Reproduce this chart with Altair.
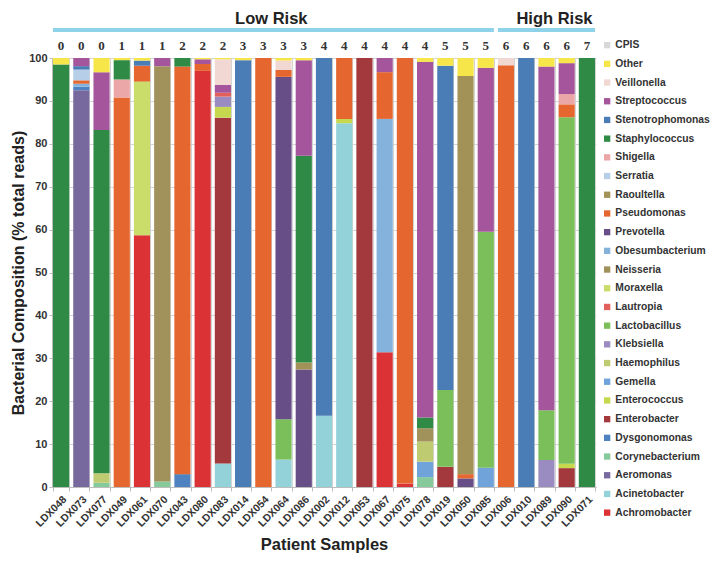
import altair as alt
import pandas as pd

# ---------------- data ----------------
samples = ["LDX048", "LDX073", "LDX077", "LDX049", "LDX061", "LDX070", "LDX043",
           "LDX080", "LDX083", "LDX014", "LDX054", "LDX064", "LDX086", "LDX002",
           "LDX012", "LDX053", "LDX067", "LDX075", "LDX078", "LDX019", "LDX050",
           "LDX085", "LDX006", "LDX010", "LDX089", "LDX090", "LDX071"]
cpis = [0, 0, 0, 1, 1, 1, 2, 2, 2, 3, 3, 3, 3, 4, 4, 4, 4, 4, 4, 5, 5, 5, 6, 6, 6, 6, 7]

# stacking order, bottom to top
genera = ["Achromobacter", "Acinetobacter", "Aeromonas", "Corynebacterium", "Dysgonomonas",
          "Enterobacter", "Enterococcus", "Gemella", "Haemophilus", "Klebsiella",
          "Lactobacillus", "Lautropia", "Moraxella", "Neisseria", "Obesumbacterium",
          "Prevotella", "Pseudomonas", "Raoultella", "Serratia", "Shigella",
          "Staphylococcus", "Stenotrophomonas", "Streptococcus", "Veillonella", "Other"]
genus_colors = ["#DB3236", "#93D2D8", "#77689E", "#86C99A", "#4F82C0",
                "#A3393C", "#C5D84E", "#6FA3D9", "#BFCB70", "#9A8CC0",
                "#7BBF5B", "#E25F5A", "#CADC6A", "#A1915A", "#85B2DC",
                "#684E87", "#E5672F", "#A39257", "#B6CEE7", "#EBA6A7",
                "#2F8A45", "#4A7CB6", "#A5559B", "#F1D8D2", "#F6E64A"]

composition = {
    "LDX048": {"Staphylococcus": 98.5, "Other": 1.5},
    "LDX073": {"Aeromonas": 92.5, "Dysgonomonas": 0.8, "Obesumbacterium": 0.7, "Pseudomonas": 0.8,
               "Serratia": 2.5, "Stenotrophomonas": 0.8, "Streptococcus": 1.9},
    "LDX077": {"Corynebacterium": 1.0, "Haemophilus": 2.2, "Staphylococcus": 80.0,
               "Streptococcus": 13.5, "Other": 3.3},
    "LDX049": {"Pseudomonas": 90.8, "Shigella": 4.2, "Staphylococcus": 4.5, "Other": 0.5},
    "LDX061": {"Achromobacter": 58.7, "Moraxella": 35.8, "Pseudomonas": 3.7,
               "Stenotrophomonas": 1.2, "Other": 0.6},
    "LDX070": {"Corynebacterium": 1.3, "Neisseria": 96.8, "Streptococcus": 1.9},
    "LDX043": {"Dysgonomonas": 3.0, "Pseudomonas": 95.0, "Staphylococcus": 2.0},
    "LDX080": {"Achromobacter": 97.0, "Pseudomonas": 1.6, "Streptococcus": 1.1, "Other": 0.3},
    "LDX083": {"Acinetobacter": 5.5, "Enterobacter": 80.6, "Enterococcus": 2.5, "Klebsiella": 2.4,
               "Lautropia": 0.9, "Streptococcus": 1.8, "Veillonella": 6.0, "Other": 0.3},
    "LDX014": {"Stenotrophomonas": 99.5, "Other": 0.5},
    "LDX054": {"Pseudomonas": 100.0},
    "LDX064": {"Acinetobacter": 6.4, "Lactobacillus": 9.4, "Prevotella": 79.8, "Pseudomonas": 1.6,
               "Veillonella": 2.2, "Other": 0.6},
    "LDX086": {"Prevotella": 27.4, "Raoultella": 1.6, "Staphylococcus": 48.2,
               "Streptococcus": 22.3, "Other": 0.5},
    "LDX002": {"Acinetobacter": 16.6, "Stenotrophomonas": 83.4},
    "LDX012": {"Acinetobacter": 84.8, "Enterococcus": 1.0, "Pseudomonas": 14.2},
    "LDX053": {"Enterobacter": 100.0},
    "LDX067": {"Achromobacter": 31.4, "Obesumbacterium": 54.4, "Pseudomonas": 10.9,
               "Streptococcus": 3.3},
    "LDX075": {"Achromobacter": 0.8, "Pseudomonas": 99.2},
    "LDX078": {"Corynebacterium": 2.3, "Gemella": 3.6, "Haemophilus": 4.7, "Neisseria": 3.1,
               "Staphylococcus": 2.5, "Streptococcus": 82.9, "Other": 0.9},
    "LDX019": {"Enterobacter": 4.7, "Lactobacillus": 17.9, "Stenotrophomonas": 75.6, "Other": 1.8},
    "LDX050": {"Prevotella": 2.0, "Pseudomonas": 1.0, "Raoultella": 92.8, "Other": 4.2},
    "LDX085": {"Gemella": 4.5, "Lactobacillus": 55.0, "Streptococcus": 38.2, "Other": 2.3},
    "LDX006": {"Pseudomonas": 98.3, "Veillonella": 1.7},
    "LDX010": {"Stenotrophomonas": 100.0},
    "LDX089": {"Klebsiella": 6.3, "Lactobacillus": 11.6, "Streptococcus": 80.1, "Other": 2.0},
    "LDX090": {"Enterobacter": 4.4, "Enterococcus": 1.0, "Lactobacillus": 80.8, "Pseudomonas": 3.0,
               "Shigella": 2.4, "Streptococcus": 7.2, "Other": 1.2},
    "LDX071": {"Staphylococcus": 100.0},
}

risk_labels = ["Low Risk", "High Risk"]
risk_first = ["LDX048", "LDX006"]
risk_last = ["LDX085", "LDX071"]
risk_mid = ["LDX054", "LDX089"]

# ---------------- tables ----------------
rows = []
for s in samples:
    for g, v in composition[s].items():
        rows.append({"sample": s, "genus": g, "value": v, "idx": genera.index(g)})
df = pd.DataFrame(rows)

cpis_df = pd.DataFrame({"sample": samples, "cpis": [str(c) for c in cpis]})
risk_df = pd.DataFrame({"label": risk_labels, "first": risk_first,
                        "last": risk_last, "mid": risk_mid})

legend_domain = ["CPIS"] + genera[::-1]
legend_range = ["#D8D8D8"] + genus_colors[::-1]

FONT = "Liberation Sans"
XT = "Patient Samples"
YT = "Bacterial Composition (% total reads)"
x_scale = alt.Scale(domain=samples, paddingInner=0.2, paddingOuter=0.05)
y_scale = alt.Scale(domain=[0, 100], nice=False)

bars = alt.Chart(df).mark_bar().encode(
    x=alt.X("sample:N", scale=x_scale, sort=samples, title=XT,
            axis=alt.Axis(title=XT, labelAngle=-45, labelFontSize=10.5,
                          labelFontWeight="bold", labelColor="#333", labelFont=FONT,
                          titleFontSize=16.5, titleFontWeight="bold", titleFont=FONT,
                          titleColor="#222", titlePadding=8,
                          tickBand="extent", grid=True, gridColor="#d4d4d4",
                          domainColor="#bdbdbd", tickColor="#bdbdbd", tickSize=4,
                          labelPadding=3)),
    y=alt.Y("value:Q", stack="zero", scale=y_scale, title=YT,
            axis=alt.Axis(title=YT,
                          values=list(range(0, 101, 10)), labelFontSize=11,
                          labelFontWeight="bold", labelColor="#333", labelFont=FONT,
                          titleFontSize=16, titleFontWeight="bold", titleFont=FONT,
                          titleColor="#222", titlePadding=2, grid=True,
                          gridColor="#d4d4d4", domainColor="#bdbdbd",
                          tickColor="#bdbdbd", tickSize=3, labelPadding=2)),
    color=alt.Color("genus:N", scale=alt.Scale(domain=legend_domain, range=legend_range),
                    legend=alt.Legend(title=None, orient="none", legendX=550, legendY=-18,
                                      symbolType="square", symbolSize=40,
                                      symbolStrokeWidth=0, labelFontSize=10.3,
                                      labelFontWeight="bold", labelColor="#333",
                                      labelFont=FONT, rowPadding=7.7, labelOffset=3,
                                      labelLimit=200)),
    order=alt.Order("idx:Q", sort="ascending"),
)

cpis_text = alt.Chart(cpis_df).mark_text(
    font="Liberation Serif", fontSize=13, fontWeight="bold", color="#333"
).encode(
    x=alt.X("sample:N", scale=x_scale, sort=samples, title=XT),
    y=alt.Y(datum=102.9, scale=y_scale, title=YT),
    text="cpis:N",
)

risk_rule = alt.Chart(risk_df).mark_rule(strokeWidth=4, color="#8FD3EA").encode(
    x=alt.X("first:N", scale=x_scale, bandPosition=0, title=XT),
    x2=alt.X2("last:N", bandPosition=1),
    y=alt.Y(datum=106.5, scale=y_scale, title=YT),
)

risk_text = alt.Chart(risk_df).mark_text(
    font=FONT, fontSize=16.5, fontWeight="bold", color="#222", dx=8
).encode(
    x=alt.X("mid:N", scale=x_scale, title=XT),
    y=alt.Y(datum=109.2, scale=y_scale, title=YT),
    text="label:N",
)

chart = alt.layer(bars, cpis_text, risk_rule, risk_text).properties(
    width=544, height=429,
    autosize=alt.AutoSizeParams(type="none"),
    padding={"left": 44, "top": 50, "right": 116, "bottom": 67},
).configure_view(stroke=None)

chart.save("out.html", embed_options={"renderer": "svg", "actions": False})
